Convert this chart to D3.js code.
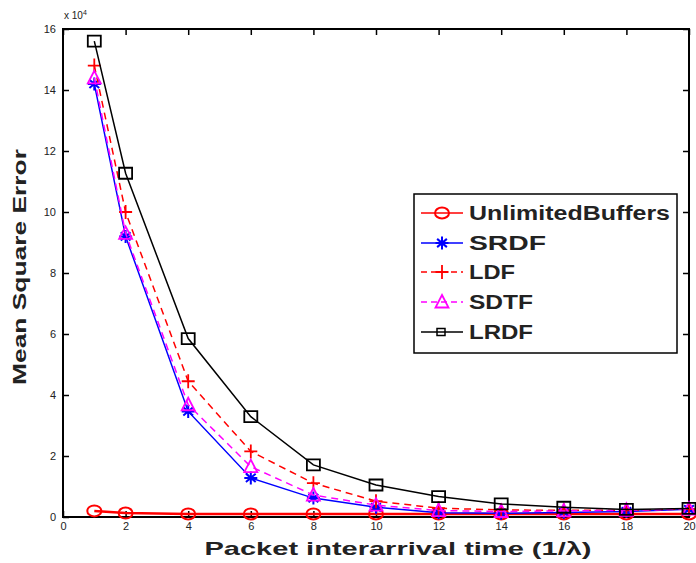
<!DOCTYPE html>
<html><head><meta charset="utf-8">
<script src="https://cdn.jsdelivr.net/npm/d3@7"></script>
<style>body{margin:0;background:#fff}svg{display:block}</style>
</head><body>
<svg id="c" width="696" height="563"></svg>
<script>
const xVals = [1, 2, 4, 6, 8, 10, 12, 14, 16, 18, 20];
const unlimitedBuffers = [0.2, 0.13, 0.1, 0.1, 0.1, 0.1, 0.1, 0.1, 0.1, 0.1, 0.1];
const srdf = [14.2, 9.2, 3.46, 1.28, 0.62, 0.32, 0.14, 0.12, 0.15, 0.18, 0.25];
const ldf  = [14.8, 10.0, 4.45, 2.15, 1.11, 0.52, 0.29, 0.23, 0.22, 0.22, 0.26];
const sdtf = [14.4, 9.3, 3.68, 1.65, 0.72, 0.39, 0.21, 0.18, 0.2, 0.22, 0.26];
const lrdf = [15.6, 11.27, 5.85, 3.29, 1.71, 1.05, 0.67, 0.43, 0.32, 0.25, 0.28];
const xTicks = [0, 2, 4, 6, 8, 10, 12, 14, 16, 18, 20];
const yTicks = [0, 2, 4, 6, 8, 10, 12, 14, 16];
const seriesNames = ["UnlimitedBuffers", "SRDF", "LDF", "SDTF", "LRDF"];

const series = [
  {name: seriesNames[0], vals: unlimitedBuffers, color: "#ff0000", dash: null, marker: "circle", width: 2.5},
  {name: seriesNames[1], vals: srdf, color: "#0000ff", dash: null, marker: "star", width: 1.5},
  {name: seriesNames[2], vals: ldf, color: "#ff0000", dash: "7,5", marker: "plus", width: 1.5},
  {name: seriesNames[3], vals: sdtf, color: "#ff00ff", dash: "7,5", marker: "triangle", width: 1.5},
  {name: seriesNames[4], vals: lrdf, color: "#000000", dash: null, marker: "square", width: 1.5}
];

const L = 63, R = 689, T = 29, B = 517;
const svg = d3.select("#c");
const x = d3.scaleLinear().domain([0, 20]).range([L, R]);
const y = d3.scaleLinear().domain([0, 16]).range([B, T]);

// axes
const fnt = "Liberation Sans, Arial, sans-serif";
const bx = svg.append("g").attr("transform", `translate(0,${B})`)
  .call(d3.axisBottom(x).tickValues(xTicks).tickSizeInner(-6).tickSizeOuter(0).tickPadding(5));
const by = svg.append("g").attr("transform", `translate(${L},0)`)
  .call(d3.axisLeft(y).tickValues(yTicks).tickSizeInner(-6).tickSizeOuter(0).tickPadding(7));
const tx = svg.append("g").attr("transform", `translate(0,${T})`)
  .call(d3.axisTop(x).tickValues(xTicks).tickSizeInner(-6).tickSizeOuter(0).tickFormat(""));
const ry = svg.append("g").attr("transform", `translate(${R},0)`)
  .call(d3.axisRight(y).tickValues(yTicks).tickSizeInner(-6).tickSizeOuter(0).tickFormat(""));
[bx, by, tx, ry].forEach(g => {
  g.select(".domain").remove();
  g.selectAll(".tick line").attr("stroke", "#000").attr("stroke-width", 1.5);
  g.selectAll(".tick text").attr("font-family", fnt).attr("font-size", 11).attr("fill", "#222");
});

svg.append("rect").attr("x", L).attr("y", T).attr("width", R - L).attr("height", B - T)
  .attr("fill", "none").attr("stroke", "#000").attr("stroke-width", 2);

// exponent
const ex = svg.append("text").attr("x", 64).attr("y", 19).attr("font-family", fnt)
  .attr("font-size", 10).attr("fill", "#222");
ex.append("tspan").text("x 10");
ex.append("tspan").attr("dy", -4).attr("font-size", 7).text("4");

// labels
svg.append("text").attr("x", 398).attr("y", 555).attr("text-anchor", "middle")
  .attr("font-family", fnt).attr("font-weight", "bold").attr("font-size", 19).attr("fill", "#222")
  .attr("textLength", 387).attr("lengthAdjust", "spacingAndGlyphs")
  .text("Packet interarrival time (1/λ)");
svg.append("text").attr("transform", "translate(26,267) rotate(-90)").attr("text-anchor", "middle")
  .attr("font-family", fnt).attr("font-weight", "bold").attr("font-size", 19).attr("fill", "#222")
  .attr("textLength", 236).attr("lengthAdjust", "spacingAndGlyphs")
  .text("Mean Square Error");

function markerPath(type) {
  const a = 6.5, b = 5.5;
  switch (type) {
    case "circle": return null;
    case "star": return `M${-a},0H${a}M0,${-b-1}V${b+1}M${-a*0.75},${-b*0.75}L${a*0.75},${b*0.75}M${-a*0.75},${b*0.75}L${a*0.75},${-b*0.75}`;
    case "plus": return `M${-a},0H${a}M0,${-b-1.5}V${b+1.5}`;
    case "triangle": return `M0,${-b-1.5}L${a},${b}L${-a},${b}Z`;
    case "square": return `M${-a},${-b}H${a}V${b}H${-a}Z`;
  }
}
function drawMarker(g, type, color, cx, cy) {
  if (type === "circle") {
    g.append("ellipse").attr("cx", cx).attr("cy", cy).attr("rx", 7).attr("ry", 5.5)
      .attr("fill", "none").attr("stroke", color).attr("stroke-width", 2);
  } else {
    g.append("path").attr("d", markerPath(type)).attr("transform", `translate(${cx},${cy})`)
      .attr("fill", "none").attr("stroke", color).attr("stroke-width", type === "star" ? 2 : 1.8);
  }
}

const line = d3.line().x(d => x(d[0])).y(d => y(d[1]));
series.forEach(s => {
  const pts = xVals.map((xv, i) => [xv, s.vals[i]]);
  const g = svg.append("g");
  g.append("path").attr("d", line(pts)).attr("fill", "none").attr("stroke", s.color)
    .attr("stroke-width", s.width).attr("stroke-dasharray", s.dash);
  pts.forEach(p => drawMarker(g, s.marker, s.color, x(p[0]), y(p[1])));
});

// legend
const lg = svg.append("g");
lg.append("rect").attr("x", 414).attr("y", 194).attr("width", 263).attr("height", 159)
  .attr("fill", "#fff").attr("stroke", "#000").attr("stroke-width", 1.5);
const ly = [213, 243, 272, 302, 332];
const lw = [201, 77, 46, 64, 64];
series.forEach((s, i) => {
  lg.append("line").attr("x1", 421).attr("x2", 463).attr("y1", ly[i]).attr("y2", ly[i])
    .attr("stroke", s.color).attr("stroke-width", 1.5).attr("stroke-dasharray", s.dash ? "6,4" : null);
  if (s.marker === "square") {
    lg.append("rect").attr("x", 437).attr("y", ly[i] - 3.5).attr("width", 8).attr("height", 7)
      .attr("fill", "none").attr("stroke", s.color).attr("stroke-width", 1.5);
  } else drawMarker(lg, s.marker, s.color, 442, ly[i]);
  lg.append("text").attr("x", 469).attr("y", ly[i] + 7).attr("font-family", fnt)
    .attr("font-weight", "bold").attr("font-size", 20).attr("fill", "#222")
    .attr("textLength", lw[i]).attr("lengthAdjust", "spacingAndGlyphs").text(s.name);
});
</script>
</body></html>
